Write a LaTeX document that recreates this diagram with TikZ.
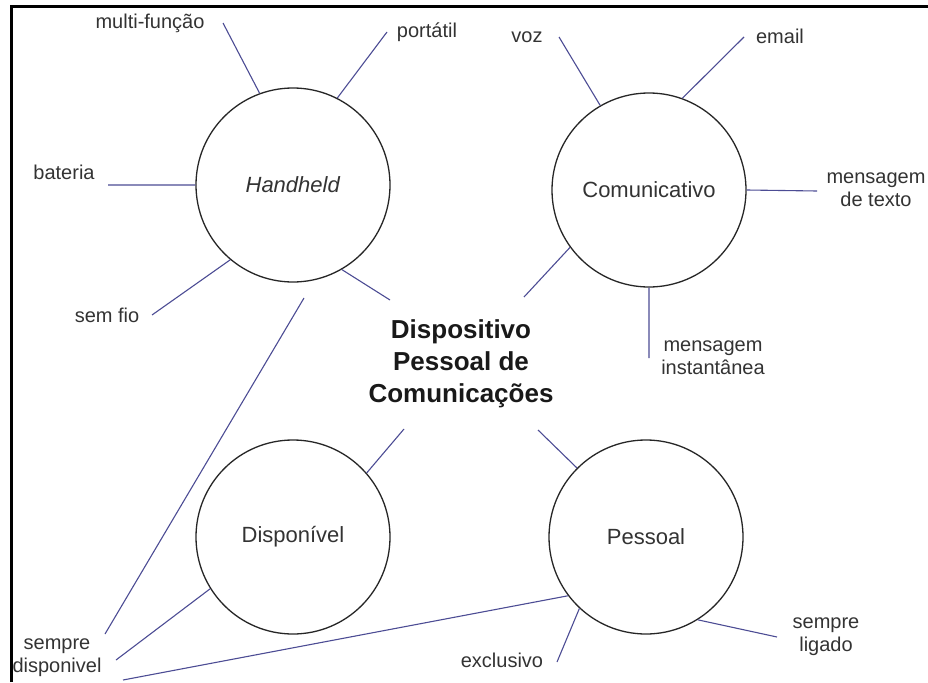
\documentclass[tikz,border=0pt]{standalone}
\usepackage{fontspec}
\setmainfont{Liberation Sans}
\usepackage{tikz}

\begin{document}
\begin{tikzpicture}[x=1pt, y=-1pt,
    topic/.style={circle, draw=black!85, line width=1.3pt, minimum size=194pt, inner sep=0pt,
                  text=black!80, font=\fontsize{22}{25}\selectfont},
    leaf/.style={text=black!80, align=center, inner sep=0pt, font=\fontsize{20}{23}\selectfont},
    link/.style={draw=blue!40!black!70, line width=1.1pt}]
    \useasboundingbox (0,0) rectangle (928,682);
    \draw[line width=3pt] (11,682) -- (11,6.5) -- (928,6.5);

    \node [topic] (hand) at (293,185) {\textit{Handheld}};
    \node [topic] (comm) at (649,190) {Comunicativo};
    \node [topic] (disp) at (293,537) {Disponível};
    \node [topic] (pess) at (646,537) {Pessoal};
    \node [align=center, inner sep=0pt, text=black!90, font=\fontsize{26}{32}\selectfont\bfseries]
        (dpc) at (461,364) {Dispositivo\\Pessoal de\\Comunicações};

    \node [leaf] (multi) at (150,23)  {multi-função};
    \node [leaf] (port)  at (427,32)  {portátil};
    \node [leaf] (bat)   at (64,172)  {bateria};
    \node [leaf] (semf)  at (107,315) {sem fio};
    \node [leaf] (voz)   at (527,37)  {voz};
    \node [leaf] (email) at (780,36)  {email};
    \node [leaf] (txt)   at (876,190) {mensagem\\de texto};
    \node [leaf] (inst)  at (713,358) {mensagem\\instantânea};
    \node [leaf] (sdisp) at (57,658)  {sempre\\disponivel};
    \node [leaf] (excl)  at (502,660) {exclusivo};
    \node [leaf] (slig)  at (826,637) {sempre\\ligado};

    \coordinate (multi-e) at (223,23);
    \coordinate (port-e)  at (387,32);
    \coordinate (bat-e)   at (108,185);
    \coordinate (semf-e)  at (152,315);
    \coordinate (hand-c)  at (390,300);
    \coordinate (voz-e)   at (559,37);
    \coordinate (email-e) at (744,37);
    \coordinate (txt-e)   at (817,191);
    \coordinate (inst-e)  at (649,358);
    \coordinate (comm-c)  at (524,297);
    \coordinate (disp-c)  at (404,429);
    \coordinate (pess-c)  at (538,430);
    \coordinate (sd-a)    at (105,634);
    \coordinate (sd-b)    at (116,660);
    \coordinate (sd-c)    at (123,680);
    \coordinate (hand-s)  at (304,298);
    \coordinate (excl-e)  at (557,662);
    \coordinate (slig-e)  at (777,637);

    \path [link] (hand.110) -- (multi-e)
                 (hand.63)  -- (port-e)
                 (hand.180) -- (bat-e)
                 (hand.230) -- (semf-e)
                 (hand.300) -- (hand-c);
    \path [link] (comm.120) -- (voz-e)
                 (comm.70)  -- (email-e)
                 (comm.0)   -- (txt-e)
                 (comm.270) -- (inst-e)
                 (comm.216) -- (comm-c);
    \path [link] (disp.41)  -- (disp-c)
                 (disp.212) -- (sd-b)
                 (hand-s)   -- (sd-a);
    \path [link] (pess.135) -- (pess-c)
                 (pess.217) -- (sd-c)
                 (pess.227) -- (excl-e)
                 (pess.302) -- (slig-e);
\end{tikzpicture}
\end{document}
